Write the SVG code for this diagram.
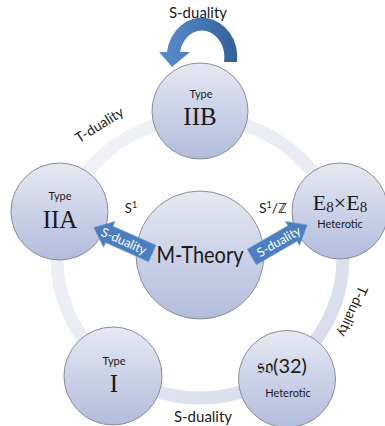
<svg xmlns="http://www.w3.org/2000/svg" width="385" height="426" viewBox="0 0 385 426">
  <defs>
    <linearGradient id="nodeFill" x1="0" y1="0" x2="0" y2="1">
      <stop offset="0" stop-color="#e6e9f3"/>
      <stop offset="1" stop-color="#b2bcdc"/>
    </linearGradient>
    <linearGradient id="ringFill" x1="0" y1="0" x2="1" y2="1">
      <stop offset="0" stop-color="#f1f3f8"/>
      <stop offset="0.5" stop-color="#e8ebf3"/>
      <stop offset="1" stop-color="#d2d7e8"/>
    </linearGradient>
    <linearGradient id="bigArrow" x1="0" y1="0" x2="1" y2="0">
      <stop offset="0" stop-color="#5b8fd0"/>
      <stop offset="1" stop-color="#335f9b"/>
    </linearGradient>
    <style>
      .node { fill: url(#nodeFill); stroke: #8a8d96; stroke-width: 1; }
      .sans { font-family: Lato, "Open Sans", "Liberation Sans", sans-serif; fill: #1a1a1a; text-anchor: middle; }
      .serif { font-family: "Liberation Serif", "DejaVu Serif", serif; fill: #1a1a1a; text-anchor: middle; }
      .small { font-size: 11px; }
      .roman { font-size: 25px; }
      .lbl { font-size: 15px; }
      .arr { fill: #4a7ec1; stroke: #6f9fd8; stroke-width: 0.6; }
      .arrtxt { font-family: Lato, "Open Sans", "Liberation Sans", sans-serif; font-size: 12.5px; fill: #ffffff; text-anchor: middle; }
    </style>
  </defs>

  <g id="connectors">
    <ellipse id="ring" cx="200" cy="258" rx="143" ry="140" fill="none" stroke="url(#ringFill)" stroke-width="13"/>
    <path id="self-loop" d="M 237 62 A 35 39 0 0 0 167 52 L 159 52 L 172 67 L 190 52 L 180 52 A 22 26 0 0 1 224 62 Z" fill="url(#bigArrow)"/>
  </g>

  <g id="m-theory">
    <circle class="node" cx="200" cy="255" r="64"/>
    <text class="sans" x="200" y="263" font-size="23" textLength="87" lengthAdjust="spacingAndGlyphs">M-Theory</text>
  </g>

  <g id="iib">
    <circle class="node" cx="200" cy="111" r="48"/>
    <text class="sans small" x="201" y="98">Type</text>
    <text class="serif roman" x="200" y="125">IIB</text>
  </g>

  <g id="iia">
    <circle class="node" cx="59.5" cy="211.5" r="48.5"/>
    <text class="sans small" x="60" y="200">Type</text>
    <text class="serif roman" x="60" y="228">IIA</text>
  </g>

  <g id="e8e8">
    <circle class="node" cx="340" cy="211" r="48"/>
    <text class="serif" x="340" y="210" font-size="22">E<tspan font-size="15" dy="2">8</tspan><tspan dy="-2">×E</tspan><tspan font-size="15" dy="2">8</tspan></text>
    <text class="sans small" x="340" y="228">Heterotic</text>
  </g>

  <g id="type-i">
    <circle class="node" cx="113" cy="376" r="49"/>
    <text class="sans small" x="114" y="365">Type</text>
    <text class="serif roman" x="114" y="392">I</text>
  </g>

  <g id="so32">
    <circle class="node" cx="287" cy="379" r="48.5"/>
    <text class="sans" x="282" y="373" font-size="20"><tspan font-family="'DejaVu Sans', 'Noto Sans', serif">𝔰𝔬</tspan>(32)</text>
    <text class="sans small" x="288" y="397">Heterotic</text>
  </g>

  <g id="s-duality-arrows">
    <g transform="translate(123 240.5) rotate(24)">
      <polygon class="arr" points="-32,0 -15,-14 -15,-9 32,-9 32,9 -15,9 -15,14"/>
      <text class="arrtxt" x="1" y="4.5">S-duality</text>
    </g>
    <g transform="translate(279.5 241) rotate(-30)">
      <polygon class="arr" points="32,0 15,-14 15,-9 -32,-9 -32,9 15,9 15,14"/>
      <text class="arrtxt" x="-1" y="4.5">S-duality</text>
    </g>
  </g>

  <g id="labels">
    <text class="sans lbl" x="198" y="18">S-duality</text>
    <text class="sans lbl" x="203" y="422">S-duality</text>
    <text class="sans" x="131" y="213" font-size="13">S<tspan font-size="9" dy="-5">1</tspan></text>
    <text class="sans" x="273" y="213" font-size="14">S<tspan font-size="9" dy="-5">1</tspan><tspan dy="5">/ℤ</tspan></text>
    <text class="sans" font-size="14" transform="translate(102 129) rotate(-32)">T-duality</text>
    <text class="sans" font-size="14" transform="translate(352 311) rotate(114)" y="4">T-duality</text>
  </g>
</svg>
